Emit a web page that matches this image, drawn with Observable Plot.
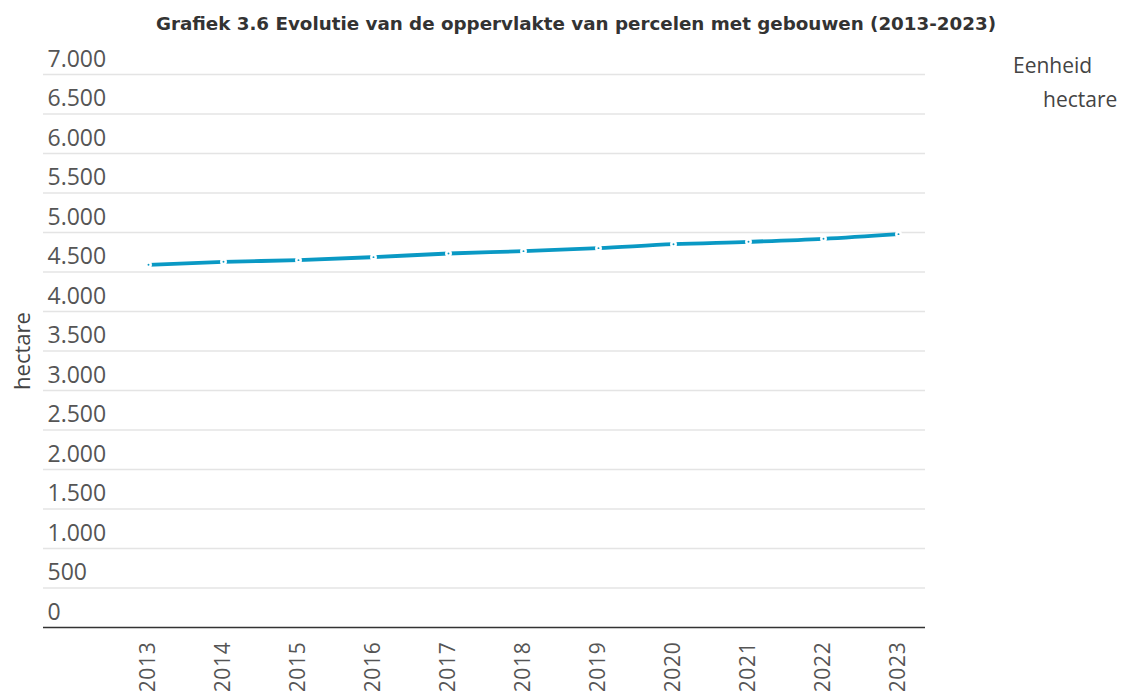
<!DOCTYPE html>
<html><head><meta charset="utf-8">
<script src="https://cdn.jsdelivr.net/npm/d3@7"></script>
<script src="https://cdn.jsdelivr.net/npm/@observablehq/plot@0.6"></script>
<style>
body{margin:0;background:#fff;font-family:"Open Sans",sans-serif;}
#wrap{position:relative;width:1121px;height:691px;overflow:hidden;}
#title{position:absolute;left:0;width:1152px;top:13px;text-align:center;font-family:"DejaVu Sans",sans-serif;font-weight:700;font-size:18.3px;color:#333;}
.leg{position:absolute;font-size:21px;color:#444;}
#ylab{position:absolute;left:21px;top:351px;transform:translate(-50%,-50%) rotate(-90deg);font-size:22px;color:#444;white-space:nowrap;}
#chart{position:absolute;left:0;top:0;}
#chart g[aria-label="ytick"] text{letter-spacing:1px;}
#chart g[aria-label="x-axis tick label"] text{letter-spacing:0.7px;}
</style></head>
<body><div id="wrap">
<div id="chart"></div>
<div id="title">Grafiek 3.6 Evolutie van de oppervlakte van percelen met gebouwen (2013-2023)</div>
<div class="leg" style="left:1013px;top:51px;">Eenheid</div>
<div class="leg" style="left:1043px;top:85px;">hectare</div>
<div id="ylab">hectare</div>
</div>
<script>
const years = [2013,2014,2015,2016,2017,2018,2019,2020,2021,2022,2023];
const hectare = [4591,4629,4650,4688,4734,4764,4802,4852,4882,4920,4979];
const yTicks = [0,500,1000,1500,2000,2500,3000,3500,4000,4500,5000,5500,6000,6500,7000];

const data = years.map((y,i)=>({year:y, value:hectare[i]}));
const nl = d3.formatLocale({decimal:",", thousands:".", grouping:[3], currency:["€",""]});
const fmt = nl.format(",d");
const color = "#0a99c4";

const chart = Plot.plot({
  width:1121, height:691,
  marginLeft:43, marginRight:196, marginTop:74, marginBottom:64,
  style:{fontFamily:"Open Sans, sans-serif", background:"#fff"},
  x:{type:"linear", domain:[2011.6, 2023.36]},
  y:{domain:[0,7000], axis:null},
  marks:[
    Plot.gridY(yTicks.filter(d=>d>0), {stroke:"#e4e4e4", strokeOpacity:1, strokeWidth:1.5}),
    Plot.ruleY([0], {stroke:"#333", strokeWidth:1.5}),
    Plot.text(yTicks, {y:d=>d, frameAnchor:"left", textAnchor:"start", dx:4, dy:-15, text:d=>fmt(d), fontSize:23, fill:"#555", ariaLabel:"ytick"}),
    Plot.axisX({ticks:years, tickFormat:d=>String(d), tickSize:0, tickPadding:14, tickRotate:-90, fontSize:21, fill:"#555", label:null}),
    Plot.line(data, {x:"year", y:"value", stroke:color, strokeWidth:3.8, curve:"monotone-x"}),
    Plot.dot(data, {x:"year", y:"value", r:2.2, fill:color, stroke:"#fff", strokeWidth:2.5})
  ]
});
document.getElementById("chart").appendChild(chart);
</script>
</body></html>
